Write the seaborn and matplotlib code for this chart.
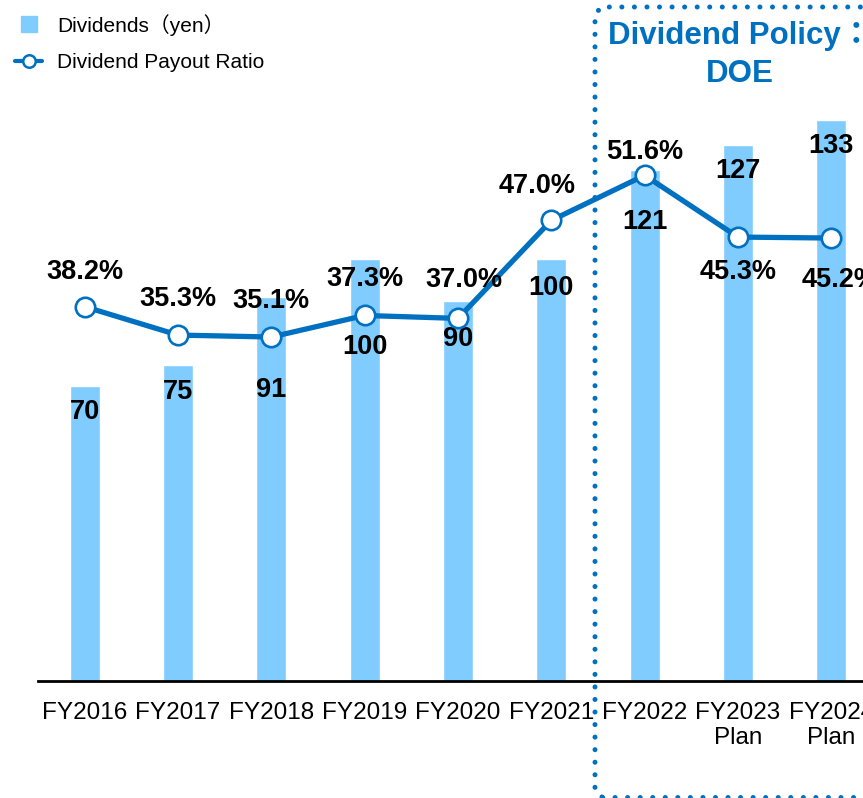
import numpy as np
import pandas as pd
import matplotlib.pyplot as plt
import seaborn as sns
from matplotlib.lines import Line2D

# Dados
anos = ['FY2016', 'FY2017', 'FY2018', 'FY2019', 'FY2020', 'FY2021',
        'FY2022', 'FY2023\nPlan', 'FY2024\nPlan']
dividendos = [70, 75, 91, 100, 90, 100, 121, 127, 133]
payout = [38.2, 35.3, 35.1, 37.3, 37.0, 47.0, 51.6, 45.3, 45.2]

# deslocamentos dos rótulos (pontos)
off_div = [-19, -20, -67, -63, -27, -21, -37, -19, -19]
off_pay = [(0, 25), (0, 26), (0, 26), (0, 26), (4, 28), (-10, 25),
           (0, 17), (0, -25), (6, -30)]

cor_barra = '#80CCFF'
cor_linha = '#0070C0'

sns.set_style('white')
plt.rcParams['font.family'] = ['Liberation Sans', 'Noto Sans CJK JP', 'DejaVu Sans']
plt.rcParams['text.color'] = 'black'
plt.rcParams['xtick.color'] = 'black'

fig = plt.figure(figsize=(8.63, 7.98), dpi=100)
W, H = 863, 798
ax = fig.add_axes([38 / W, (H - 681) / H, (878 - 38) / W, 681 / H])

df = pd.DataFrame({'ano': anos, 'div': dividendos})
sns.barplot(data=df, x='ano', y='div', ax=ax, color=cor_barra,
            saturation=1, width=0.32)
ax.set_ylim(0, 681 / 4.22)
ax.set_xlim(-0.5, 8.5)
ax.set_xlabel('')
ax.set_ylabel('')
ax.set_yticks([])
for s in ['top', 'right', 'left']:
    ax.spines[s].set_visible(False)
ax.spines['bottom'].set_color('black')
ax.spines['bottom'].set_linewidth(2)
ax.tick_params(axis='x', length=0, pad=15, labelsize=17.5, labelcolor='black')
for t in ax.get_xticklabels():
    t.set_linespacing(1.2)

for i, v in enumerate(dividendos):
    ax.annotate(str(v), (i, v), xytext=(0, off_div[i]), textcoords='offset points',
                ha='center', va='center', fontsize=19.5, fontweight='bold')

ax2 = ax.twinx()
sns.lineplot(x=np.arange(len(payout)), y=payout, ax=ax2, color=cor_linha,
             linewidth=3.8, marker='o', markersize=14, markerfacecolor='white',
             markeredgecolor=cor_linha, markeredgewidth=1.9)
ax2.set_ylim(0, 681 / 9.8)
ax2.set_yticks([])
for s in ['top', 'right', 'left', 'bottom']:
    ax2.spines[s].set_visible(False)

for i, v in enumerate(payout):
    ax2.annotate(f'{v:.1f}%', (i, v), xytext=off_pay[i], textcoords='offset points',
                 ha='center', va='center', fontsize=19.5, fontweight='bold')

# Legenda
handles = [
    Line2D([], [], linestyle='none', marker='s', markersize=11,
           markerfacecolor=cor_barra, markeredgecolor=cor_barra),
    Line2D([], [], color=cor_linha, linewidth=3, marker='o', markersize=9,
           markerfacecolor='white', markeredgecolor=cor_linha, markeredgewidth=1.8),
]
fig.legend(handles, ['Dividends（yen）', 'Dividend Payout Ratio'],
           loc='upper left', bbox_to_anchor=(-0.004, 1.006), frameon=False,
           fontsize=15, handlelength=1.3, handletextpad=0.7, labelspacing=0.85)

# Caixa pontilhada
estilo = dict(transform=fig.transFigure, color=cor_linha, linewidth=3.6,
              linestyle=(0, (0.01, 2.5)), dash_capstyle='round')
box = Line2D([602 / W, 595 / W, 595 / W, 601 / W, 880 / W],
             [1 - 797 / H, 1 - 790 / H, 1 - 15 / H, 1 - 7 / H, 1 - 7 / H], **estilo)
fig.add_artist(box)
box_b = Line2D([602 / W, 880 / W], [1 - 797 / H, 1 - 797 / H], **estilo)
fig.add_artist(box_b)

fig.text(740 / W, 1 - 55 / H, 'Dividend Policy：\nDOE', ha='center', va='center',
         fontsize=22.5, fontweight='bold', color=cor_linha, linespacing=1.35)

fig.savefig('out.png', dpi=100)
